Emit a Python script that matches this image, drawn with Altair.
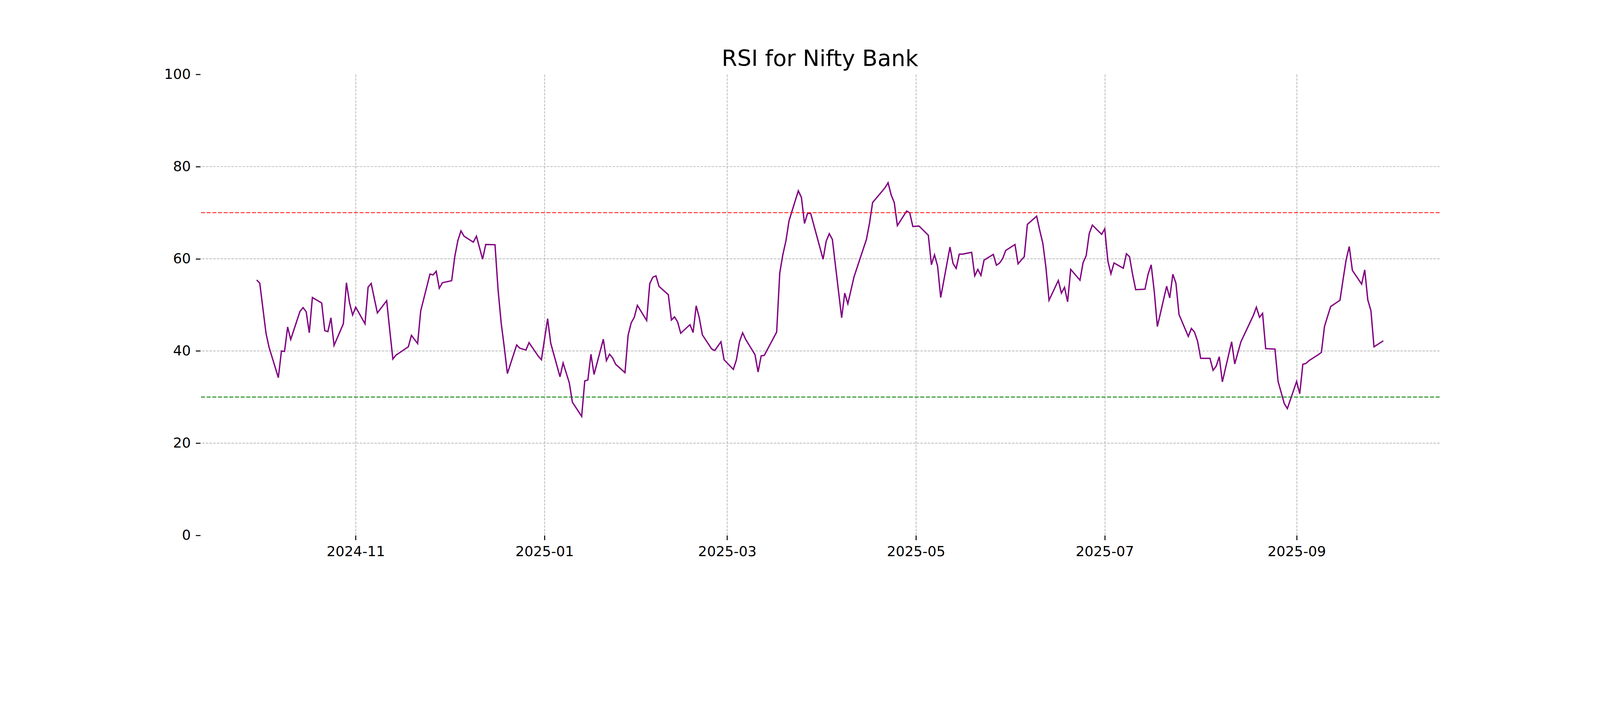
import altair as alt
import pandas as pd

# ---- data (trading-day vertices) ----
dates = [
    "2024-09-30","2024-10-01","2024-10-03","2024-10-04","2024-10-07","2024-10-08","2024-10-09","2024-10-10",
    "2024-10-11","2024-10-14","2024-10-15","2024-10-16","2024-10-17","2024-10-18","2024-10-21","2024-10-22",
    "2024-10-23","2024-10-24","2024-10-25","2024-10-28","2024-10-29","2024-10-30","2024-10-31","2024-11-01",
    "2024-11-04","2024-11-05","2024-11-06","2024-11-07","2024-11-08","2024-11-11","2024-11-12","2024-11-13",
    "2024-11-14","2024-11-18","2024-11-19","2024-11-21","2024-11-22","2024-11-25","2024-11-26","2024-11-27",
    "2024-11-28","2024-11-29","2024-12-02","2024-12-03","2024-12-04","2024-12-05","2024-12-06","2024-12-09",
    "2024-12-10","2024-12-12","2024-12-13","2024-12-16","2024-12-17","2024-12-18","2024-12-19","2024-12-20",
    "2024-12-23","2024-12-24","2024-12-26","2024-12-27","2024-12-30","2024-12-31","2025-01-02","2025-01-03",
    "2025-01-06","2025-01-07","2025-01-09","2025-01-10","2025-01-13","2025-01-14","2025-01-15","2025-01-16",
    "2025-01-17","2025-01-20","2025-01-21","2025-01-22","2025-01-23","2025-01-24","2025-01-27","2025-01-28",
    "2025-01-29","2025-01-30","2025-01-31","2025-02-03","2025-02-04","2025-02-05","2025-02-06","2025-02-07",
    "2025-02-10","2025-02-11","2025-02-12","2025-02-13","2025-02-14","2025-02-17","2025-02-18","2025-02-19",
    "2025-02-20","2025-02-21","2025-02-24","2025-02-25","2025-02-27","2025-02-28","2025-03-03","2025-03-04",
    "2025-03-05","2025-03-06","2025-03-07","2025-03-10","2025-03-11","2025-03-12","2025-03-13","2025-03-17",
    "2025-03-18","2025-03-19","2025-03-20","2025-03-21","2025-03-24","2025-03-25","2025-03-26","2025-03-27",
    "2025-03-28","2025-04-01","2025-04-02","2025-04-03","2025-04-04","2025-04-07","2025-04-08","2025-04-09",
    "2025-04-11","2025-04-15","2025-04-16","2025-04-17","2025-04-21","2025-04-22","2025-04-23","2025-04-24",
    "2025-04-25","2025-04-28","2025-04-29","2025-04-30","2025-05-02","2025-05-05","2025-05-06","2025-05-07",
    "2025-05-08","2025-05-09","2025-05-12","2025-05-13","2025-05-14","2025-05-15","2025-05-16","2025-05-19",
    "2025-05-20","2025-05-21","2025-05-22","2025-05-23","2025-05-26","2025-05-27","2025-05-28","2025-05-29",
    "2025-05-30","2025-06-02","2025-06-03","2025-06-04","2025-06-05","2025-06-06","2025-06-09","2025-06-10",
    "2025-06-11","2025-06-12","2025-06-13","2025-06-16","2025-06-17","2025-06-18","2025-06-19","2025-06-20",
    "2025-06-23","2025-06-24","2025-06-25","2025-06-26","2025-06-27","2025-06-30","2025-07-01","2025-07-02",
    "2025-07-03","2025-07-04","2025-07-07","2025-07-08","2025-07-09","2025-07-10","2025-07-11","2025-07-14",
    "2025-07-15","2025-07-16","2025-07-17","2025-07-18","2025-07-21","2025-07-22","2025-07-23","2025-07-24",
    "2025-07-25","2025-07-28","2025-07-29","2025-07-30","2025-07-31","2025-08-01","2025-08-04","2025-08-05",
    "2025-08-06","2025-08-07","2025-08-08","2025-08-11","2025-08-12","2025-08-13","2025-08-14","2025-08-18",
    "2025-08-19","2025-08-20","2025-08-21","2025-08-22","2025-08-25","2025-08-26","2025-08-28","2025-08-29",
    "2025-09-01","2025-09-02","2025-09-03","2025-09-04","2025-09-05","2025-09-08","2025-09-09","2025-09-10",
    "2025-09-11","2025-09-12","2025-09-15","2025-09-16","2025-09-17","2025-09-18","2025-09-19","2025-09-22",
    "2025-09-23","2025-09-24","2025-09-25","2025-09-26","2025-09-29",
]
rsi = [
    55.4, 54.7, 43.9, 40.8, 34.2, 40.0, 39.9, 45.2,
    42.5, 48.6, 49.4, 48.5, 43.95, 51.6, 50.4, 44.4,
    44.2, 47.2, 41.2, 45.9, 54.8, 50.45, 47.8, 49.5,
    45.9, 53.85, 54.65, 51.4, 48.25, 50.9, 44.5, 38.25,
    39.1, 40.9, 43.4, 41.6, 48.7, 56.7, 56.5, 57.3,
    53.6, 54.8, 55.25, 60.45, 63.95, 66.05, 64.9, 63.6,
    64.9, 59.9, 63.1, 63.05, 53.2, 46.05, 40.8, 35.1,
    41.3, 40.6, 40.2, 41.8, 38.85, 38.1, 47.0, 41.7,
    34.4, 37.4, 33.1, 28.9, 25.8, 33.5, 33.7, 39.3,
    34.9, 42.55, 37.9, 39.3, 38.5, 37.1, 35.3, 43.4,
    46.1, 47.3, 49.9, 46.6, 54.6, 56.0, 56.3, 54.0,
    52.2, 46.7, 47.4, 46.3, 43.85, 45.7, 44.0, 49.8,
    47.2, 43.5, 40.45, 40.1, 42.0, 38.1, 36.0, 38.1,
    42.0, 43.95, 42.5, 39.2, 35.45, 38.95, 39.05, 44.1,
    56.9, 60.9, 63.9, 68.25, 74.75, 73.3, 67.65, 69.9,
    69.8, 59.9, 63.8, 65.45, 64.2, 47.2, 52.55, 50.25,
    56.1, 64.2, 67.7, 72.2, 75.4, 76.5, 73.85, 72.2,
    67.2, 70.35, 69.95, 67.0, 67.1, 65.1, 58.7, 60.85,
    58.4, 51.6, 62.55, 58.95, 57.9, 61.0, 61.0, 61.4,
    56.3, 57.7, 56.4, 59.7, 60.95, 58.6, 59.05, 60.0,
    61.8, 63.1, 58.9, 59.7, 60.45, 67.45, 69.25, 66.15,
    63.35, 58.1, 51.0, 55.3, 52.55, 53.8, 50.65, 57.7,
    55.35, 59.15, 60.65, 65.5, 67.3, 65.3, 66.5, 59.55,
    56.75, 59.1, 57.95, 61.1, 60.45, 56.6, 53.3, 53.4,
    56.65, 58.7, 52.9, 45.3, 54.05, 51.5, 56.65, 54.7,
    47.9, 43.15, 44.9, 44.1, 42.1, 38.4, 38.4, 35.8,
    36.7, 38.75, 33.3, 42.0, 37.2, 39.6, 42.0, 47.7,
    49.5, 47.3, 48.15, 40.5, 40.4, 33.4, 28.6, 27.5,
    33.4, 30.7, 37.1, 37.3, 37.9, 39.2, 39.7, 45.3,
    47.5, 49.65, 51.0, 55.5, 59.8, 62.65, 57.5, 54.5,
    57.6, 51.05, 48.75, 40.9, 42.2,
]
x_ticks = ["2024-11-01", "2025-01-01", "2025-03-01", "2025-05-01", "2025-07-01", "2025-09-01"]
y_ticks = [0, 20, 40, 60, 80, 100]
y_grid = [20, 40, 60, 80]
overbought = [70]
oversold = [30]
title = "RSI for Nifty Bank"

FONT = "DejaVu Sans"
W, H = 3720, 1384

df = pd.DataFrame({"Date": dates, "RSI": rsi})

# x domain with 5% margins (like matplotlib)
t = pd.to_datetime(dates)
span = t.max() - t.min()
x_lo = t.min() - span * 0.05
x_hi = t.max() + span * 0.05
to_ms = lambda ts: int(pd.Timestamp(ts).value // 10**6)
x_domain = [to_ms(x_lo), to_ms(x_hi)]
tick_vals = [to_ms(d) for d in x_ticks]

x_scale = alt.Scale(type="utc", domain=x_domain, nice=False)
y_scale = alt.Scale(domain=[0, 100], nice=False, zero=False)

x_axis = alt.Axis(
    values=tick_vals, labelExpr="utcFormat(datum.value, '%Y-%m')", title=None,
    grid=True, gridColor="#b0b0b0", gridDash=[7.7, 3.3], gridWidth=2,
    domain=False, ticks=True, tickColor="#000000", tickSize=14, tickWidth=3,
    labelFont=FONT, labelFontSize=42, labelColor="#000000", labelPadding=15,
    labelFlush=False, labelLimit=0, labelOverlap=False,
)
y_axis = alt.Axis(
    values=y_ticks, title=None, grid=False, domain=False,
    ticks=True, tickColor="#000000", tickSize=14, tickWidth=3,
    labelFont=FONT, labelFontSize=42, labelColor="#000000", labelPadding=15,
)

base = alt.Chart(df)

line = base.mark_line(color="#800080", strokeWidth=4, clip=True).encode(
    x=alt.X("Date:T", scale=x_scale, axis=x_axis),
    y=alt.Y("RSI:Q", scale=y_scale, axis=y_axis),
)

grid_h = alt.Chart(pd.DataFrame({"v": y_grid})).mark_rule(
    color="#b0b0b0", strokeDash=[7.7, 3.3], strokeWidth=2
).encode(y=alt.Y("v:Q", scale=y_scale))

ob = alt.Chart(pd.DataFrame({"v": overbought})).mark_rule(
    color="#ff0000", strokeDash=[12, 5], strokeWidth=2.5
).encode(y=alt.Y("v:Q", scale=y_scale))

os_ = alt.Chart(pd.DataFrame({"v": oversold})).mark_rule(
    color="#008000", strokeDash=[12, 5], strokeWidth=2.5
).encode(y=alt.Y("v:Q", scale=y_scale))

title_mark = alt.Chart(pd.DataFrame({"t": [title]})).mark_text(
    font=FONT, fontSize=67, color="#000000", align="center", baseline="alphabetic",
    clip=False,
).encode(x=alt.value(W / 2), y=alt.value(-25), text="t:N")

chart = alt.layer(grid_h, line, ob, os_, title_mark).properties(
    width=W,
    height=H,
    background="#ffffff",
    padding={"left": 592, "top": 60, "right": 472, "bottom": 340},
    autosize=alt.AutoSizeParams(type="none"),
).configure_view(strokeWidth=0, stroke="transparent")

chart.save("out.html", embed_options={"renderer": "svg", "actions": False})
